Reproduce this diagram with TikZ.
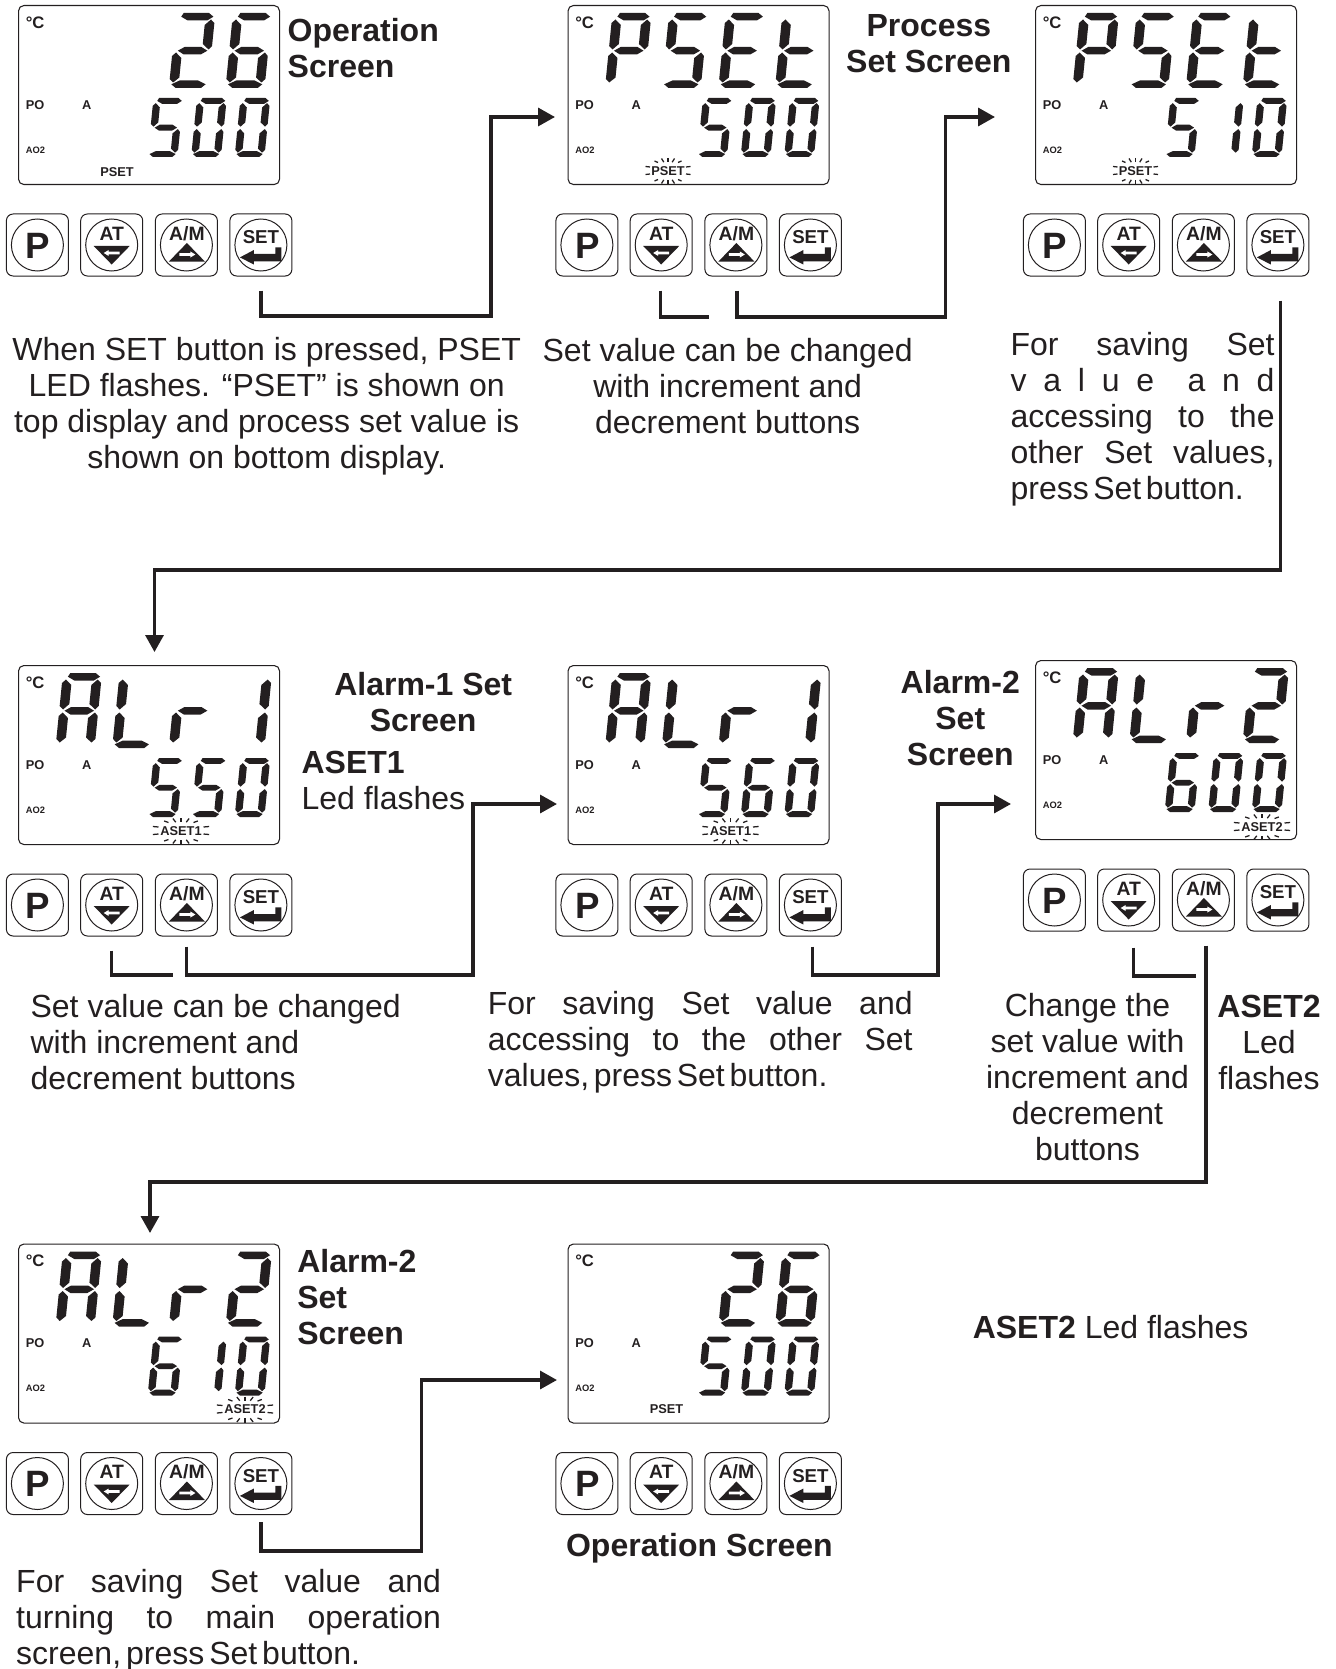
\documentclass[tikz,border=0pt]{standalone}
\usepackage{fontspec}
\setmainfont{Liberation Sans}
\usetikzlibrary{arrows.meta}
\definecolor{ink}{HTML}{231F20}
\def\k{1.0646}
\tikzset{
  disp/.style={draw=ink,line width=0.8pt,rounded corners=4pt,minimum width=195.75pt,minimum height=134.25pt,inner sep=0pt,anchor=north west},
  btn/.style={draw=ink,line width=0.75pt,rounded corners=5pt,minimum width=46.5pt,minimum height=46.5pt,inner sep=0pt},
  body/.style={inner sep=0pt,text=ink,font=\fontsize{24}{27}\selectfont,align=center},
  heavy/.style={body,font=\fontsize{24}{27}\selectfont\bfseries},
  lefty/.style={body,align=left,anchor=north west},
  small/.style={inner sep=0pt,text=ink,font=\fontsize{9.6}{10}\selectfont\bfseries},
  tiny/.style={inner sep=0pt,text=ink,font=\fontsize{7}{8}\selectfont\bfseries},
  deg/.style={inner sep=0pt,text=ink,font=\fontsize{12.5}{13}\selectfont\bfseries},
  led/.style={inner sep=0pt,text=ink,font=\fontsize{9.6}{10}\selectfont\bfseries},
  conn/.style={line width=2.5pt,draw=ink,line join=miter,-{Triangle[length=12.75pt,width=13.5pt]}},
  stub/.style={line width=2.5pt,draw=ink,line join=miter},
  ray/.style={draw=ink,line width=0.95pt}
}
% seven segments, in a box 36 wide and 75 high
\newcommand\segA{\fill[ink] (6.5,0)--(30.5,0)--(35,3.7)--(29.5,7.5)--(11,7.5)--(4.5,3.7)--cycle;}
\newcommand\segB{\fill[ink] (33,6.5)--(36.5,10)--(36.5,33)--(33.5,36.5)--(27.5,31)--(27.5,12)--cycle;}
\newcommand\segC{\fill[ink] (33.5,39.5)--(36.5,43)--(36.5,66)--(33,69.5)--(27.5,64.5)--(27.5,45)--cycle;}
\newcommand\segD{\fill[ink] (6,75)--(1.5,71.3)--(9,67.5)--(26.5,67.5)--(34,71.3)--(30,75)--cycle;}
\newcommand\segE{\fill[ink] (3,39.5)--(8.5,45)--(8.5,64.5)--(3,69.5)--(-.5,66)--(-.5,43)--cycle;}
\newcommand\segF{\fill[ink] (3,6.5)--(8.5,12)--(8.5,31)--(3,36.5)--(-.5,33)--(-.5,10)--cycle;}
\newcommand\segG{\fill[ink] (4.5,37.7)--(10.5,34)--(26.5,34)--(32.5,37.7)--(26.5,41.5)--(10.5,41.5)--cycle;}
\newcommand\dgTwo{\segA\segB\segG\segE\segD}
\newcommand\dgFive{\segA\segF\segG\segC\segD}
\newcommand\dgSix{\segA\segF\segG\segE\segC\segD}
\newcommand\dgZero{\segA\segB\segC\segD\segE\segF}
\newcommand\dgOne{\segB\segC}
\newcommand\dgP{\segA\segB\segF\segG\segE}
\newcommand\dgE{\segA\segF\segG\segE\segD}
\newcommand\dgT{\segF\segE\segG\segD}
\newcommand\dgA{\segA\segB\segC\segE\segF\segG}
\newcommand\dgL{\segF\segE\segD}
\newcommand\dgR{\segE\segG}
\newcommand\tdg[2]{\begin{scope}[shift={({38+56.67*(#1-1)+7.5},8)},xslant=0.1,xscale=38/36]#2\end{scope}}
\newcommand\bdg[2]{\begin{scope}[shift={({130+43.5*(#1-1)+5.9},93)},xslant=0.1,xscale=29/36,yscale=59/75]#2\end{scope}}
\newcommand\flashrays[3]{\begin{scope}[shift={(#1,#2)},xscale=#3/16]
  \foreach \s in {-1,1}{
    \draw[ray] (\s*18,-4)--(\s*22.5,-4.5);
    \draw[ray] (\s*18,3)--(\s*22.5,3.5);
    \foreach \t in {-1,1}{
      \draw[ray] (\s*13.5,\t*10)--(\s*10,\t*8.5);
      \draw[ray] (\s*6.5,\t*12.5)--(\s*4.2,\t*8.8);
    }
    \draw[ray] (0,\s*13)--(0,\s*8.8);
  }
\end{scope}}
\newcommand\panel[6]{\begin{scope}[shift={(#2,#3)}]
  \node[disp] (#1disp) at (0,0) {};
  \node[deg,anchor=west] (#1deg) at (7.5,17.5) {°C};
  \node[small,anchor=west] (#1po) at (7.5,100) {PO};
  \node[small] (#1a) at (68.7,100) {A};
  \node[tiny,anchor=west] (#1ao) at (7.5,145) {AO2};
  #4 #5 #6
  \node[btn] (#1P) at (19.4,240) {};
  \node[btn] (#1AT) at (93.7,240) {};
  \node[btn] (#1AM) at (168.4,240) {};
  \node[btn] (#1SET) at (242.9,240) {};
  \foreach \bx in {19.4,93.7,168.4,242.9}{\draw[ink,line width=0.75pt] (\bx,240) circle[radius=26];}
  \node[inner sep=0pt,text=ink,font=\fontsize{27.5}{28}\selectfont\bfseries] (#1Pt) at (20.2,240.5) {P};
  \begin{scope}[shift={(93.7,240)}]
    \node[inner sep=0pt,text=ink,font=\fontsize{14.5}{15}\selectfont\bfseries] (#1ATt) at (0,-11.5) {AT};
    \fill[ink] (-18,1)--(18,1)--(0,19.5)--cycle;
    \fill[white] (-8,8)--(-3,5)--(-3,6.7)--(8,6.7)--(8,9.3)--(-3,9.3)--(-3,11)--cycle;
  \end{scope}
  \begin{scope}[shift={(168.4,240)}]
    \node[inner sep=0pt,text=ink,font=\fontsize{14.5}{15}\selectfont\bfseries] (#1AMt) at (0.5,-11.5) {A/M};
    \fill[ink] (-17.5,16.5)--(18.5,16.5)--(0.5,-2)--cycle;
    \fill[white] (9,9.5)--(4,6.5)--(4,8.2)--(-7,8.2)--(-7,10.8)--(4,10.8)--(4,12.5)--cycle;
  \end{scope}
  \begin{scope}[shift={(242.9,240)}]
    \node[inner sep=0pt,text=ink,font=\fontsize{14}{15}\selectfont\bfseries] (#1SETt) at (0,-7.5) {SET};
    \fill[ink] (-21,12.4)--(-7,5)--(-7,9)--(14.5,9)--(14.5,2.4)--(20.5,2.4)--(20.5,16.4)--(-7,16.4)--(-7,19.5)--cycle;
  \end{scope}
\end{scope}}
\newcommand\jl[2]{\makebox[#1pt][s]{#2}}
\begin{document}
\begin{tikzpicture}[x=0.75pt,y=-0.75pt]
\useasboundingbox (0,0) rectangle (1335,1669);

% panels
\panel{pa}{18}{5}{\tdg{3}{\dgTwo}\tdg{4}{\dgSix}}{\bdg{1}{\dgFive}\bdg{2}{\dgZero}\bdg{3}{\dgZero}}
  {\node[led] (paled) at (99,167) {PSET};}
\panel{pb}{567.5}{5}{\tdg{1}{\dgP}\tdg{2}{\dgFive}\tdg{3}{\dgE}\tdg{4}{\dgT}}{\bdg{1}{\dgFive}\bdg{2}{\dgZero}\bdg{3}{\dgZero}}
  {\node[led] (pbled) at (100.5,166) {PSET};\flashrays{100.5}{166}{16}}
\panel{pc}{1035}{5}{\tdg{1}{\dgP}\tdg{2}{\dgFive}\tdg{3}{\dgE}\tdg{4}{\dgT}}{\bdg{1}{\dgFive}\bdg{2}{\dgOne}\bdg{3}{\dgZero}}
  {\node[led] (pcled) at (100.5,166) {PSET};\flashrays{100.5}{166}{16}}
\panel{pd}{18}{665}{\tdg{1}{\dgA}\tdg{2}{\dgL}\tdg{3}{\dgR}\tdg{4}{\dgOne}}{\bdg{1}{\dgFive}\bdg{2}{\dgFive}\bdg{3}{\dgZero}}
  {\node[led] (pdled) at (163,166) {ASET1};\flashrays{163}{166}{20}}
\panel{pe}{567.5}{665}{\tdg{1}{\dgA}\tdg{2}{\dgL}\tdg{3}{\dgR}\tdg{4}{\dgOne}}{\bdg{1}{\dgFive}\bdg{2}{\dgSix}\bdg{3}{\dgZero}}
  {\node[led] (peled) at (163,166) {ASET1};\flashrays{163}{166}{20}}
\panel{pf}{1035}{660}{\tdg{1}{\dgA}\tdg{2}{\dgL}\tdg{3}{\dgR}\tdg{4}{\dgTwo}}{\bdg{1}{\dgSix}\bdg{2}{\dgZero}\bdg{3}{\dgZero}}
  {\node[led] (pfled) at (227,167) {ASET2};\flashrays{227}{167}{20}}
\panel{pg}{18}{1243.5}{\tdg{1}{\dgA}\tdg{2}{\dgL}\tdg{3}{\dgR}\tdg{4}{\dgTwo}}{\bdg{1}{\dgSix}\bdg{2}{\dgOne}\bdg{3}{\dgZero}}
  {\node[led] (pgled) at (227,166) {ASET2};\flashrays{227}{166}{20}}
\panel{ph}{567.5}{1243.5}{\tdg{3}{\dgTwo}\tdg{4}{\dgSix}}{\bdg{1}{\dgFive}\bdg{2}{\dgZero}\bdg{3}{\dgZero}}
  {\node[led] (phled) at (99,166) {PSET};}

% connector turning points and arrival points
\coordinate (m1) at (491,316);   \coordinate (a1) at (555,117);
\coordinate (l2) at (709,317);
\coordinate (m2) at (945.5,317); \coordinate (a2) at (995,117);
\coordinate (m3) at (154.5,570); \coordinate (a3) at (154.5,652);
\coordinate (l4) at (172.5,975);
\coordinate (m4) at (473,975);   \coordinate (a4) at (557,804);
\coordinate (m5) at (938,975);   \coordinate (a5) at (1011,804);
\coordinate (l6) at (1196,976);
\coordinate (m6) at (150,1182);  \coordinate (a6) at (150,1233);
\coordinate (m7) at (421.6,1551);\coordinate (a7) at (557,1380);

\draw[conn] (paSET.south) ++(0,14) |- (m1) |- (a1);
\draw[stub] (pbAT.south) ++(-1,14) |- (l2);
\draw[conn] (pbAM.south) ++(1,14) |- (m2) |- (a2);
\draw[conn] (pcSET.south) ++(2.5,24) |- (m3) -- (a3);
\draw[stub] (pdAT.south) ++(0,14) |- (l4);
\draw[conn] (pdAM.south) ++(0,10) |- (m4) |- (a4);
\draw[conn] (peSET.south) ++(2,10) |- (m5) |- (a5);
\draw[stub] (pfAT.south) ++(5,16) |- (l6);
\draw[conn] (pfAM.south) ++(2.5,14) |- (m6) -- (a6);
\draw[conn] (pgSET.south) ++(0,7) |- (m7) |- (a7);

% texts
\node[heavy,align=left,anchor=north west] (t1) at ({\k*270},{\k*28-11.5}) {Operation\\Screen};
\node[heavy,anchor=north] (t2) at ({\k*872.5},{\k*24-11.5}) {Process\\Set Screen};
\node[body,anchor=north] (t3) at ({\k*250.5},{\k*328-12.5}) {When SET button is pressed, PSET\\LED flashes. “PSET” is shown on\\top display and process set value is\\shown on bottom display.};
\node[body,anchor=north] (t4) at ({\k*683.5},{\k*329-12.5}) {Set value can be changed\\with increment and\\decrement buttons};
\node[lefty] (t5) at ({\k*949},{\k*323-11.5}) {%
  \jl{198}{For\hfill saving\hfill Set}\\
  \jl{198}{v\hfill a\hfill l\hfill u\hfill e\hfill\hfill a\hfill n\hfill d}\\
  \jl{198}{accessing\hfill to\hfill the}\\
  \jl{198}{other\hfill Set\hfill values,}\\
  \jl{174.9}{press\hfill Set\hfill button.}};
\node[heavy,anchor=north] (t6) at ({\k*397.5},{\k*643-12.5}) {Alarm-1 Set\\Screen};
\node[lefty] (t7) at ({\k*283},{\k*716-11.5}) {\textbf{ASET1}\\Led flashes};
\node[heavy,anchor=north] (t8) at ({\k*902},{\k*641-12.5}) {Alarm-2\\Set\\Screen};
\node[lefty] (t9) at ({\k*28.5},{\k*945-12.5}) {Set value can be changed\\with increment and\\decrement buttons};
\node[lefty] (t10) at ({\k*458},{\k*942-11.5}) {%
  \jl{318.6}{For\hfill saving\hfill Set\hfill value\hfill and}\\
  \jl{318.6}{accessing\hfill to\hfill the\hfill other\hfill Set}\\
  \jl{254.7}{values,\hfill press\hfill Set\hfill button.}};
\node[body,anchor=north] (t11) at ({\k*1021.5},{\k*944-11.5}) {Change the\\set value with\\increment and\\decrement\\buttons};
\node[body,anchor=north] (t12) at ({\k*1192},{\k*945-11.5}) {\textbf{ASET2}\\Led\\flashes};
\node[heavy,align=left,anchor=north west] (t13) at ({\k*279},{\k*1185-12.5}) {Alarm-2\\Set\\Screen};
\node[lefty] (t14) at ({\k*15},{\k*1486-12.5}) {%
  \jl{318.6}{For\hfill saving\hfill Set\hfill value\hfill and}\\
  \jl{318.6}{turning\hfill to\hfill main\hfill operation}\\
  \jl{257.9}{screen,\hfill press\hfill Set\hfill button.}};
\node[heavy,anchor=north] (t15) at ({\k*657},{\k*1452-12.5}) {Operation Screen};
\node[lefty] (t16) at ({\k*913.5},{\k*1247-12.5}) {\textbf{ASET2} Led flashes};
\end{tikzpicture}
\end{document}
